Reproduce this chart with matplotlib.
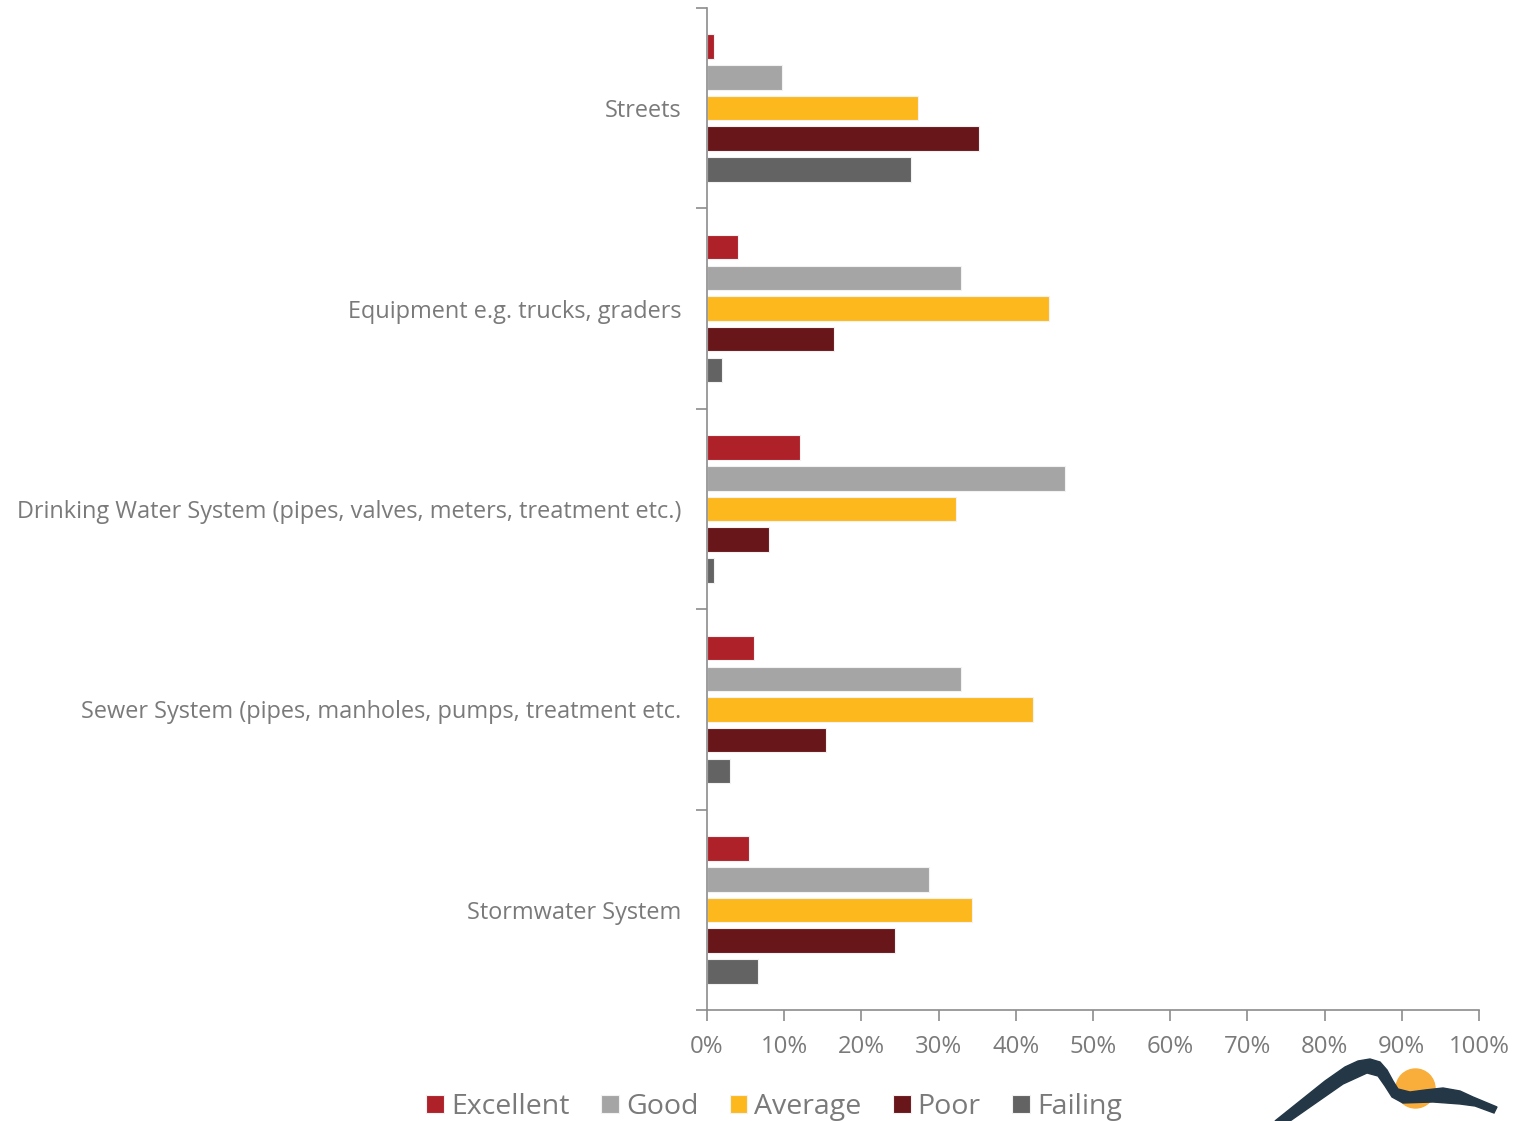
import matplotlib
matplotlib.use("Agg")
import numpy as np
import matplotlib.pyplot as plt
from matplotlib.patches import Polygon, Circle

plt.rcParams['font.family'] = ['Open Sans', 'DejaVu Sans']

# data
categories = ['Streets',
              'Equipment e.g. trucks, graders',
              'Drinking Water System (pipes, valves, meters, treatment etc.)',
              'Sewer System (pipes, manholes, pumps, treatment etc.',
              'Stormwater System']
series = ['Excellent', 'Good', 'Average', 'Poor', 'Failing']
excellent = [0.9, 4.0, 12.0, 6.1, 5.4]
good = [9.7, 32.9, 46.4, 32.9, 28.8]
average = [27.3, 44.3, 32.3, 42.2, 34.3]
poor = [35.2, 16.5, 8.0, 15.4, 24.4]
failing = [26.4, 1.9, 0.9, 3.0, 6.6]
xticks = [0, 10, 20, 30, 40, 50, 60, 70, 80, 90, 100]

values = [excellent, good, average, poor, failing]
colors = ['#AE2129', '#A5A5A5', '#FDB81E', '#69161B', '#636363']
text_grey = '#7A7A7A'
axis_grey = '#8C8C8C'

fig = plt.figure(figsize=(15.36, 11.21), dpi=100)
ax = fig.add_axes([0.4603, 0.0990, 0.5026, 0.8939])

y = np.arange(len(categories))
offsets = [-0.307, -0.152, 0.0, 0.152, 0.307]
for vals, off, c, name in zip(values, offsets, colors, series):
    ax.barh(y + off, vals, height=0.122, color=c, label=name,
            edgecolor='#F2F2F2', linewidth=0.8)

ax.set_xlim(0, 100)
ax.set_ylim(4.5, -0.5)
ax.set_xticks(xticks)
ax.set_xticklabels(['%d%%' % t for t in xticks])
ax.set_yticks(y)
ax.set_yticklabels(categories)
ax.set_yticks(np.arange(-0.5, 5.0, 1.0), minor=True)

for s in ['top', 'right']:
    ax.spines[s].set_visible(False)
for s in ['left', 'bottom']:
    ax.spines[s].set_color(axis_grey)
    ax.spines[s].set_linewidth(1.2)

ax.tick_params(axis='y', which='major', length=0, pad=18.5, labelsize=16.9, labelcolor=text_grey)
ax.tick_params(axis='y', which='minor', length=8, width=1.2, color=axis_grey)
ax.tick_params(axis='x', which='major', length=8, width=1.2, color=axis_grey,
               labelsize=17.2, labelcolor=text_grey, pad=10)

leg = fig.legend(loc='lower center', bbox_to_anchor=(0.504, -0.0227), ncol=5, frameon=False,
                 fontsize=20.5, handlelength=0.62, handleheight=0.62, handletextpad=0.25,
                 columnspacing=1.1)
for t in leg.get_texts():
    t.set_color(text_grey)

# logo in the bottom right corner, drawn in pixel coordinates
lax = fig.add_axes([0, 0, 1, 1])
lax.set_xlim(0, 1536)
lax.set_ylim(1121, 0)
lax.axis('off')
lax.add_patch(Circle((1415.5, 1088.5), 19.5, color='#F9AE3B', zorder=1))
swoosh = [(1275, 1121), (1300, 1101), (1325, 1081), (1345, 1067), (1358, 1061), (1370, 1059),
          (1380, 1062), (1387, 1070), (1393, 1081), (1398, 1089), (1410, 1092), (1425, 1090),
          (1443, 1088), (1460, 1091), (1473, 1097), (1497, 1107), (1494, 1113), (1475, 1106),
          (1460, 1104), (1433, 1102), (1403, 1103), (1392, 1097), (1385, 1086), (1378, 1076),
          (1367, 1073), (1343, 1084), (1310, 1107), (1290, 1121)]
lax.add_patch(Polygon(swoosh, closed=True, color='#243746', zorder=2))

fig.savefig('out.png', dpi=100)
